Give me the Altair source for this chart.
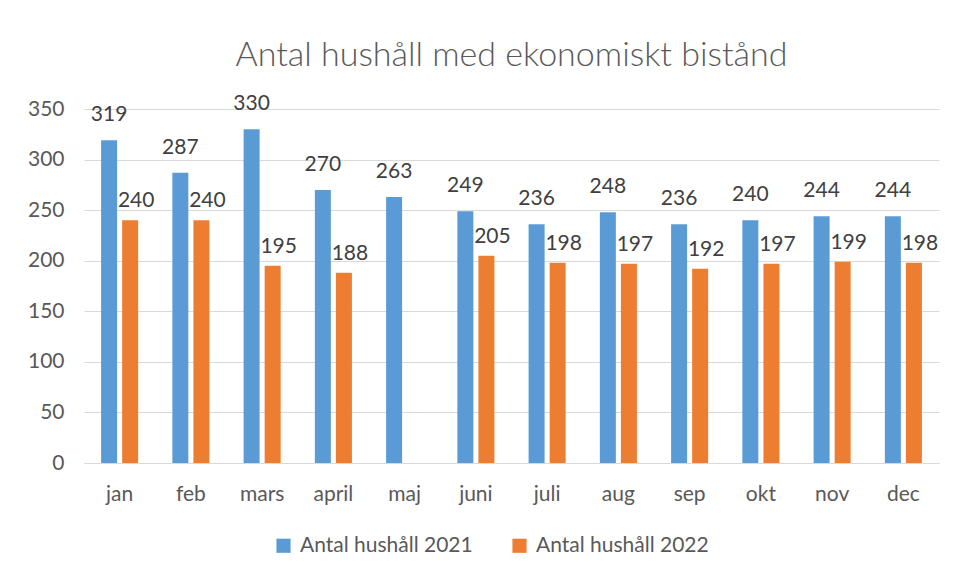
import altair as alt
import pandas as pd

months = ["jan", "feb", "mars", "april", "maj", "juni", "juli", "aug", "sep", "okt", "nov", "dec"]
values_2021 = [319, 287, 330, 270, 263, 249, 236, 248, 236, 240, 244, 244]
values_2022 = [240, 240, 195, 188, None, 205, 198, 197, 192, 197, 199, 198]
series = ["Antal hushåll 2021", "Antal hushåll 2022"]
colors = ["#5B9BD5", "#ED7D31"]
y_ticks = [0, 50, 100, 150, 200, 250, 300, 350]

rows = []
for m, a, b in zip(months, values_2021, values_2022):
    rows.append({"month": m, "series": series[0], "value": a})
    rows.append({"month": m, "series": series[1], "value": b})
df = pd.DataFrame(rows)

FONT = "Lato"
TXT = "#595959"
FS = 21

x_enc = alt.X("month:N", sort=months, title=None,
              scale=alt.Scale(paddingInner=0.48, paddingOuter=0.24),
              axis=alt.Axis(labelAngle=0, labelFontSize=FS, labelColor=TXT, labelFont=FONT,
                            ticks=False, domainColor="#d9d9d9", labelPadding=20))
xoff = alt.XOffset("series:N", sort=series, scale=alt.Scale(paddingInner=0.24))
y_enc = alt.Y("value:Q", title=None,
              scale=alt.Scale(domain=[0, 350], nice=False),
              axis=alt.Axis(values=y_ticks, labelFontSize=FS, labelColor=TXT, labelFont=FONT,
                            ticks=False, domain=False, gridColor="#d9d9d9", labelPadding=20))

base = alt.Chart(df).transform_filter("datum.value != null")

bars = base.mark_bar().encode(
    x=x_enc, xOffset=xoff, y=y_enc,
    color=alt.Color("series:N", sort=series, title=None,
                    scale=alt.Scale(domain=series, range=colors),
                    legend=alt.Legend(orient="none", legendX=189, legendY=426,
                                      direction="horizontal", symbolType="square",
                                      symbolSize=200, labelFontSize=FS, labelColor=TXT, labelFont=FONT,
                                      labelLimit=400, columnPadding=36, labelOffset=6)),
)
lab21 = base.transform_filter(alt.datum.series == series[0]).mark_text(
    dy=-25, fontSize=FS, color="#404040", font=FONT
).encode(x=alt.X("month:N", sort=months), xOffset=xoff, y="value:Q", text="value:Q")
lab22 = base.transform_filter(alt.datum.series == series[1]).mark_text(
    dy=-19, dx=6, fontSize=FS, color="#404040", font=FONT
).encode(x=alt.X("month:N", sort=months), xOffset=xoff, y="value:Q", text="value:Q")

chart = (bars + lab21 + lab22).properties(
    width=855, height=354,
    background="white",
    title=alt.Title("Antal hushåll med ekonomiskt bistånd", fontSize=34, font=FONT,
                    fontWeight=300, color=TXT, offset=20),
    padding={"left": 19, "top": 31, "right": 5, "bottom": 5},
).configure_view(strokeWidth=0)

chart.save("out.html", embed_options={"renderer": "svg", "actions": False})
